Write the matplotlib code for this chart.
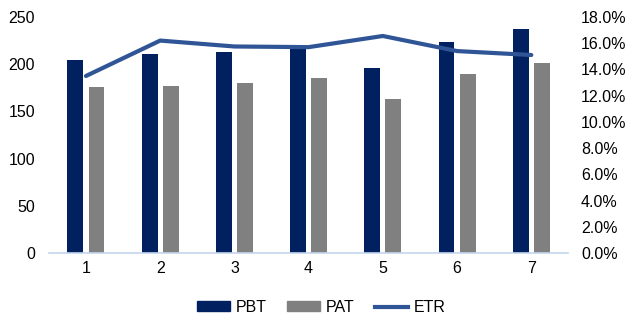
import matplotlib
matplotlib.use("Agg")
import matplotlib.pyplot as plt
import numpy as np
from matplotlib.patches import Patch
from matplotlib.lines import Line2D
from matplotlib.ticker import FuncFormatter, MultipleLocator

plt.rcParams['font.family'] = ['Liberation Sans', 'DejaVu Sans']

categories = ['1', '2', '3', '4', '5', '6', '7']
pbt = [204, 211, 213, 218, 196, 224, 237]
pat = [176, 177, 180, 185, 163, 190, 201]
etr = [13.5, 16.2, 15.75, 15.7, 16.55, 15.4, 15.1]

c_pbt = '#002060'
c_pat = '#808080'
c_etr = '#2F5597'

fs = 11.5
fig = plt.figure(figsize=(6.26, 3.2), dpi=100)
ax = fig.add_axes([0.078, 0.209, 0.83, 0.738])
x = np.arange(len(categories))
w = 0.215
gap = 0.035
ax.bar(x - w/2 - gap, pbt, width=w, color=c_pbt, zorder=2)
ax.bar(x + w/2 + gap, pat, width=w, color=c_pat, zorder=2)
ax.set_xlim(-0.5, len(categories) - 0.5)
ax.set_ylim(0, 250)
ax.yaxis.set_major_locator(MultipleLocator(50))
ax.set_xticks(x)
ax.set_xticklabels(categories)
for s in ['top', 'right', 'left']:
    ax.spines[s].set_visible(False)
ax.spines['bottom'].set_color('#C5D6F0')
ax.spines['bottom'].set_linewidth(1.2)
ax.tick_params(length=0, labelsize=fs, colors='#000000')
ax.tick_params(axis='y', pad=10)
ax.tick_params(axis='x', pad=6)

ax2 = ax.twinx()
ax2.plot(x, etr, color=c_etr, lw=3, solid_capstyle='round', zorder=3)
ax2.set_ylim(0, 18)
ax2.yaxis.set_major_locator(MultipleLocator(2))
ax2.yaxis.set_major_formatter(FuncFormatter(lambda v, p: f"{v:.1f}%"))
for s in ['top', 'right', 'left', 'bottom']:
    ax2.spines[s].set_visible(False)
ax2.tick_params(length=0, labelsize=fs, pad=9)

handles = [Patch(color=c_pbt), Patch(color=c_pat), Line2D([0], [0], color=c_etr, lw=3)]
fig.legend(handles, ['PBT', 'PAT', 'ETR'], loc='center', bbox_to_anchor=(0.513, 0.04),
           ncol=3, frameon=False, fontsize=fs, handlelength=2.1, handleheight=0.5,
           handletextpad=0.35, columnspacing=1.25)

fig.savefig('out.png', dpi=100)
